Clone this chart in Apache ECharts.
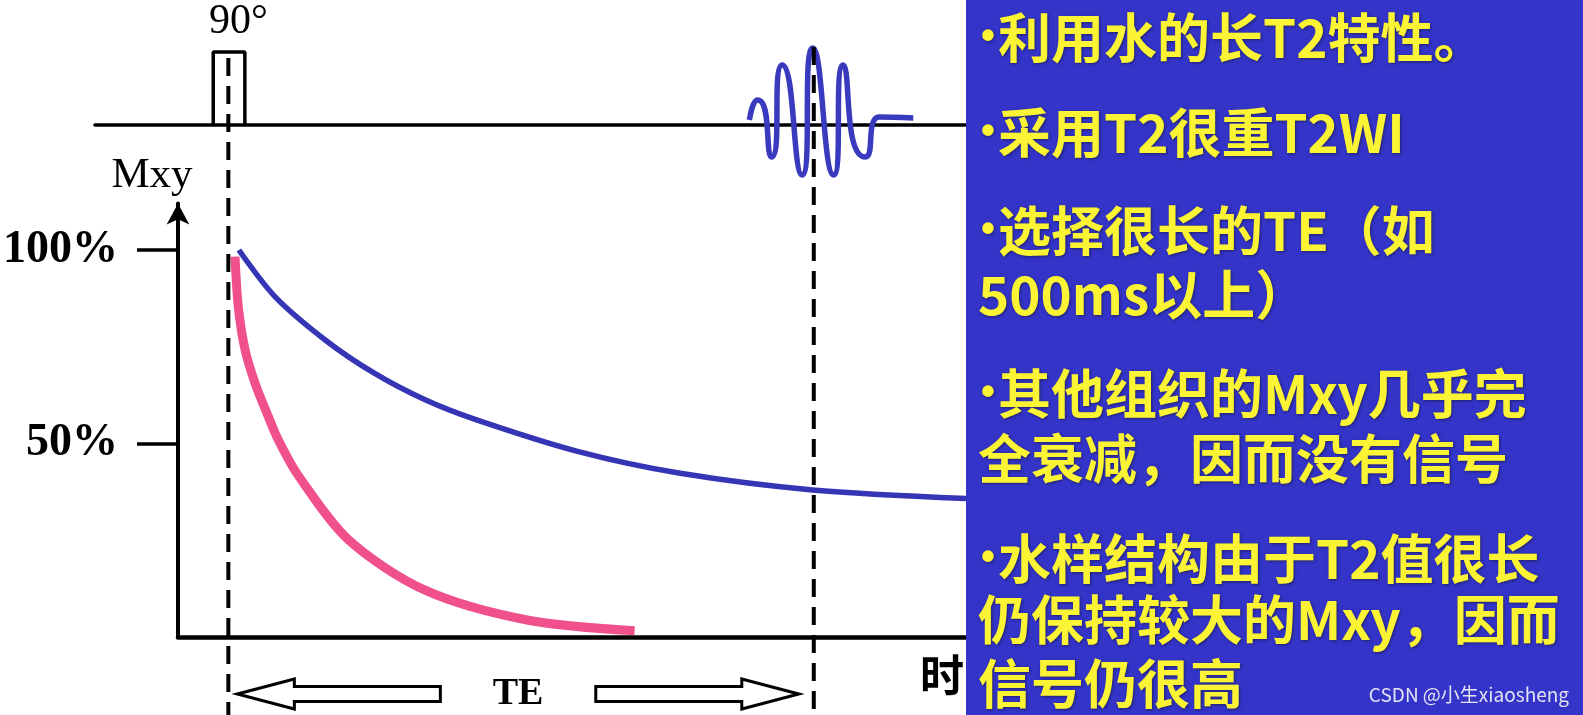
<!DOCTYPE html>
<html>
<head>
<meta charset="utf-8">
<title>T2WI 水成像</title>
<script src="https://cdn.jsdelivr.net/npm/echarts@6/dist/echarts.min.js"></script>
<style>
  html, body { margin: 0; padding: 0; background: #fff; }
  #chart { width: 1583px; height: 715px; }
</style>
</head>
<body>
<div id="chart"></div>
<script>
  // time in ms: 90° pulse at 0, echo at TE = 500
  const pulseT = [-13, -13, 14, 14]
  const pulseAmp = [0, 73, 73, 0]
  const echoT = [445, 452, 464, 473, 490, 499, 517, 525, 544, 556, 585]
  const echoAmp = [5, 25, -32, 60, -50, 77, -50, 60, -32, 8, 7]

  // Mxy (%) of water (long T2) and other tissue (short T2)
  const waterT = [9, 40, 83, 125, 168, 212, 299, 386, 499, 630]
  const waterMxy = [100, 87.9, 76.7, 68.1, 61.3, 56.1, 47.9, 42.3, 38.0, 35.8]
  const tissueT = [5.7, 8.5, 14.3, 22.8, 34.2, 42.7, 59.1, 102.7, 168, 255, 347]
  const tissueMxy = [98.3, 85.3, 74.2, 65.6, 56.9, 50.9, 42.0, 25.1, 12.1, 4.4, 1.6]

  const yTicks = [50, 100]
  const yTickLabels = ['50%', '100%']
  const TE = 500

  // bullet lines start with '*'
  const notes = [
    '*利用水的长T2特性。',
    '*采用T2很重T2WI',
    '*选择很长的TE（如',
    '500ms以上）',
    '*其他组织的Mxy几乎完',
    '全衰减，因而没有信号',
    '*水样结构由于T2值很长',
    '仍保持较大的Mxy，因而',
    '信号仍很高'
  ]
  const noteY = [38, 133, 231, 295, 394, 459, 559, 620, 684]

  const pairs = (xs, ys) => xs.map((x, i) => [x, ys[i]])

  const chart = echarts.init(document.getElementById('chart'))

  chart.setOption({
    animation: false,
    backgroundColor: '#fff',
    grid: [
      {left: 178, right: 617, top: 203.6, bottom: 78},
      {left: 95, right: 617, top: 40, bottom: 530}
    ],
    xAxis: [
      {
        gridIndex: 0, type: 'value', min: -43, max: 630,
        axisLine: {onZero: false, lineStyle: {color: '#000', width: 4.5}},
        axisTick: {show: false}, axisLabel: {show: false}, splitLine: {show: false}
      },
      {
        gridIndex: 1, type: 'value', min: -114, max: 630,
        axisLine: {onZero: true, lineStyle: {color: '#000', width: 3.5}},
        axisTick: {show: false}, axisLabel: {show: false}, splitLine: {show: false}
      }
    ],
    yAxis: [
      {
        gridIndex: 0, type: 'value', min: 0, max: 112,
        axisLine: {
          show: true,
          onZero: false,
          symbol: ['none', 'arrow'],
          symbolSize: [17, 21],
          lineStyle: {color: '#000', width: 4}
        },
        axisTick: {
          show: true, inside: false, length: 41, customValues: yTicks,
          lineStyle: {color: '#000', width: 3.5}
        },
        axisLabel: {
          customValues: yTicks,
          formatter: v => yTickLabels[yTicks.indexOf(v)],
          margin: 60,
          fontFamily: 'Liberation Serif', fontWeight: 'bold', fontSize: 46, color: '#000'
        },
        splitLine: {show: false},
        name: 'Mxy',
        nameLocation: 'end',
        nameGap: 6,
        nameTextStyle: {
          fontFamily: 'Liberation Serif', fontSize: 43, color: '#000',
          align: 'center', padding: [0, 52, 0, 0]
        }
      },
      {gridIndex: 1, type: 'value', min: -60, max: 85, show: false}
    ],
    series: [
      {
        name: '90°', type: 'line', xAxisIndex: 1, yAxisIndex: 1,
        data: pairs(pulseT, pulseAmp), symbol: 'none',
        lineStyle: {color: '#000', width: 3.5}
      },
      {
        name: 'echo', type: 'line', xAxisIndex: 1, yAxisIndex: 1,
        data: pairs(echoT, echoAmp), symbol: 'none', smooth: 0.9,
        lineStyle: {color: '#3a3abf', width: 5.5}
      },
      {
        name: 'water', type: 'line', xAxisIndex: 0, yAxisIndex: 0,
        data: pairs(waterT, waterMxy), symbol: 'none', smooth: 0.3,
        lineStyle: {color: '#3535b5', width: 5.5}
      },
      {
        name: 'tissue', type: 'line', xAxisIndex: 0, yAxisIndex: 0,
        data: pairs(tissueT, tissueMxy), symbol: 'none', smooth: 0.3,
        lineStyle: {color: '#f0508c', width: 9}
      }
    ]
  })

  // annotations placed from the axes' own scales
  const px = (g, p) => chart.convertToPixel({gridIndex: g}, p)
  const x0 = px(0, [0, 0])[0]
  const xTE = px(0, [TE, 0])[0]
  const axisY = px(0, [0, 0])[1]
  const H = chart.getHeight()
  const ay = axisY + 57

  const dashed = (x, y1) => ({
    type: 'line', z: 100,
    shape: {x1: x, y1: y1, x2: x, y2: H},
    style: {stroke: '#000', lineWidth: 4, lineDash: [18, 10]}
  })

  const arrow = (tip, dir) => {
    // dir = 1 points right, -1 points left
    const b = tip - dir * 57, e = tip - dir * 203
    return {
      type: 'polygon', z: 100,
      shape: {points: [
        [tip, ay], [b, ay - 15], [b, ay - 7.5], [e, ay - 7.5],
        [e, ay + 7.5], [b, ay + 7.5], [b, ay + 15]
      ]},
      style: {fill: '#fff', stroke: '#000', lineWidth: 3}
    }
  }

  const left = x0 + 9, right = xTE - 15
  const serif = 'Liberation Serif'
  const cjk = '"Noto Sans CJK SC", "Noto Sans", sans-serif'

  const graphic = [
    dashed(x0, px(1, [0, 67])[1]),
    dashed(xTE, px(1, [TE, 78])[1]),
    arrow(left, -1),
    arrow(right, 1),
    {
      type: 'text', z: 100,
      style: {
        text: 'TE', x: (left + 203 + right - 203) / 2, y: ay,
        fontFamily: serif, fontWeight: 'bold', fontSize: 38, fill: '#000',
        align: 'center', verticalAlign: 'middle'
      }
    },
    {
      type: 'text', z: 100,
      style: {
        text: '90°', x: px(1, [0, 0])[0] + 10, y: 22,
        fontFamily: serif, fontSize: 42, fill: '#000',
        align: 'center', verticalAlign: 'middle'
      }
    },
    {
      type: 'text', z: 100,
      style: {
        text: '时', x: 942, y: axisY + 38,
        fontFamily: cjk, fontWeight: 'bold', fontSize: 44, fill: '#000',
        align: 'center', verticalAlign: 'middle'
      }
    },
    {
      type: 'rect', z: 110,
      shape: {x: 966, y: 0, width: 617, height: H},
      style: {fill: '#3434c9'}
    }
  ]

  notes.forEach((t, i) => {
    const bullet = t[0] === '*'
    graphic.push({
      type: 'text', z: 120,
      style: {
        text: bullet ? '{b|•}' + t.slice(1) : t,
        x: bullet ? 981 : 978, y: noteY[i],
        fontFamily: cjk, fontWeight: 'bold', fontSize: 53, fill: '#fbf435',
        align: 'left', verticalAlign: 'middle',
        textShadowColor: 'rgba(20,20,40,0.6)', textShadowBlur: 3,
        textShadowOffsetX: 1, textShadowOffsetY: 1,
        rich: {
          b: {fontFamily: 'Liberation Sans', fontWeight: 'bold', fontSize: 40, fill: '#fbf435', padding: [0, 3, 0, 0]}
        }
      }
    })
  })

  graphic.push({
    type: 'text', z: 120,
    style: {
      text: 'CSDN @小生xiaosheng', x: 1569, y: 695,
      fontFamily: cjk, fontSize: 19, fill: 'rgba(236,236,246,0.95)',
      align: 'right', verticalAlign: 'middle'
    }
  })

  chart.setOption({graphic: graphic})
</script>
</body>
</html>
